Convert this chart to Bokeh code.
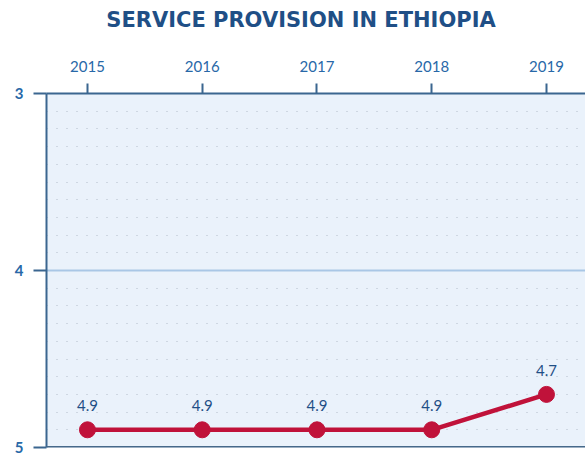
from bokeh.plotting import figure
from bokeh.models import Range1d, FixedTicker, LinearAxis, ColumnDataSource, Span, Div
from bokeh.layouts import column
from bokeh.core.properties import value
from bokeh.embed import file_html
from bokeh.resources import INLINE

years = [2015, 2016, 2017, 2018, 2019]
scores = [4.9, 4.9, 4.9, 4.9, 4.7]
score_labels = ["4.9", "4.9", "4.9", "4.9", "4.7"]
y_ticks = [3, 4, 5]
title_text = "SERVICE PROVISION IN ETHIOPIA"

DARK = "#1f4f86"
AXIS = "#3b6690"
TICKLBL = "#2868a8"
RED = "#c0123a"

TITLE_H = 40

header = Div(text=title_text, width=585, height=TITLE_H, margin=0,
             styles={"font-family": "DejaVu Sans", "font-size": "21px", "font-weight": "bold",
                     "color": DARK, "text-align": "center", "line-height": f"{TITLE_H}px",
                     "padding-left": "17px", "box-sizing": "border-box", "width": "585px",
                     "white-space": "nowrap"})

p = figure(width=585, height=453 - TITLE_H, output_backend="svg", toolbar_location=None,
           x_range=Range1d(2014.643, 2019.34), y_range=Range1d(5, 3),
           x_axis_location=None, y_axis_location=None, margin=0,
           min_border_left=46, min_border_right=0, min_border_bottom=6, min_border_top=93 - TITLE_H)
p.background_fill_color = "#eaf2fb"
p.border_fill_color = "white"
p.outline_line_color = None

xa = LinearAxis(ticker=FixedTicker(ticks=years))
xa.major_label_overrides = {y: str(y) for y in years}
xa.axis_line_color = AXIS
xa.axis_line_width = 2
xa.major_tick_line_color = AXIS
xa.major_tick_line_width = 2
xa.major_tick_out = 10
xa.major_tick_in = 0
xa.minor_tick_line_color = None
xa.major_label_text_font = "Lato"
xa.major_label_text_font_size = "15px"
xa.major_label_text_color = TICKLBL
xa.major_label_standoff = 12
p.add_layout(xa, "above")

ya = LinearAxis(ticker=FixedTicker(ticks=y_ticks, minor_ticks=[round(3 + 0.1 * i, 1) for i in range(1, 20)]))
ya.axis_line_color = AXIS
ya.axis_line_width = 2
ya.major_tick_line_color = AXIS
ya.major_tick_line_width = 2
ya.major_tick_out = 13
ya.major_tick_in = 0
ya.minor_tick_line_color = None
ya.major_label_text_font = "Lato"
ya.major_label_text_font_style = "bold"
ya.major_label_text_font_size = "15px"
ya.major_label_text_color = TICKLBL
ya.major_label_standoff = 10
p.add_layout(ya, "left")

p.xgrid.visible = False
p.ygrid.ticker = ya.ticker
p.ygrid.grid_line_color = "#a9c7e6"
p.ygrid.grid_line_width = 2
p.ygrid.minor_grid_line_color = "#b3bcc8"
p.ygrid.minor_grid_line_dash = "1 9"
p.ygrid.minor_grid_line_width = 1.2

p.add_layout(Span(location=5, dimension="width", line_color="#46698a", line_width=3))

src = ColumnDataSource(dict(x=years, y=scores, lbl=score_labels))
p.line("x", "y", source=src, line_color=RED, line_width=4.5)
p.scatter("x", "y", source=src, size=16, fill_color=RED, line_color=RED)
p.text("x", "y", text="lbl", source=src, text_font=value("Lato"), text_font_size="15px",
       text_color=DARK, text_align="center", text_baseline="middle", y_offset=-24)

layout = column(header, p, spacing=0, margin=0)
open("out.html", "w").write(file_html(layout, INLINE))
